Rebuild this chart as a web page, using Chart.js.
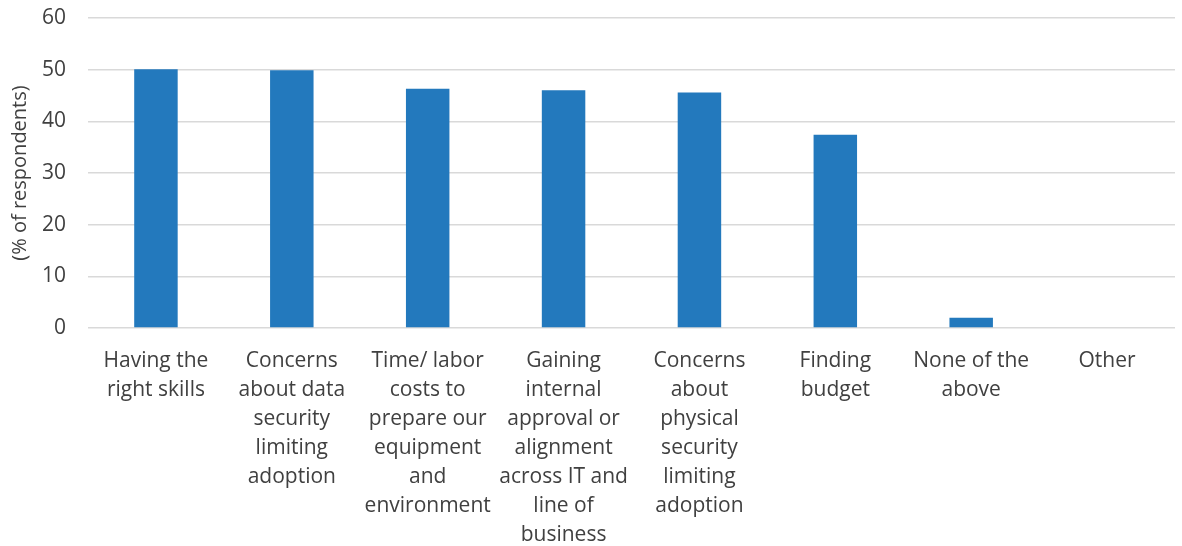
<!DOCTYPE html>
<html>
<head>
<meta charset="utf-8">
<script src="https://cdn.jsdelivr.net/npm/chart.js@4"></script>
<style>
  html, body { margin: 0; padding: 0; background: #ffffff; }
  #wrap { width: 1182px; height: 546px; }
</style>
</head>
<body>
<div id="wrap"><canvas id="barriersChart"></canvas></div>
<script>
// categories, one line per wrapped row as in the picture
const categories = [
  ['Having the', 'right skills'],
  ['Concerns', 'about data', 'security', 'limiting', 'adoption'],
  ['Time/ labor', 'costs to', 'prepare our', 'equipment', 'and', 'environment'],
  ['Gaining', 'internal', 'approval or', 'alignment', 'across IT and', 'line of', 'business'],
  ['Concerns', 'about', 'physical', 'security', 'limiting', 'adoption'],
  ['Finding', 'budget'],
  ['None of the', 'above'],
  ['Other']
];

const respondents = [50.1, 49.9, 46.3, 46.0, 45.6, 37.4, 2.0, 0];

const yTicks = [0, 10, 20, 30, 40, 50, 60];

const textColor = '#404040';

const ctx = document.getElementById('barriersChart');

new Chart(ctx, {
  type: 'bar',
  data: {
    labels: categories,
    datasets: [{
      label: '% of respondents',
      data: respondents,
      backgroundColor: '#2379bd',
      borderWidth: 0,
      categoryPercentage: 1,
      barPercentage: 0.32
    }]
  },
  options: {
    responsive: true,
    maintainAspectRatio: false,
    animation: false,
    layout: {
      padding: { top: 18, right: 7, left: 8, bottom: 0 }
    },
    plugins: {
      legend: { display: false },
      tooltip: { enabled: false }
    },
    scales: {
      x: {
        grid: { display: false },
        border: { display: false },
        afterFit: function (scale) {
          scale.height = 218;
        },
        ticks: {
          color: textColor,
          maxRotation: 0,
          autoSkip: false,
          padding: 11,
          font: { family: 'Open Sans', size: 21, lineHeight: 1.38 }
        }
      },
      y: {
        min: 0,
        max: 60,
        afterBuildTicks: function (axis) {
          axis.ticks = yTicks.map(v => ({ value: v }));
        },
        afterFit: function (scale) {
          scale.width = 80;
        },
        grid: {
          color: '#d9d9d9',
          lineWidth: 1.5,
          drawTicks: true,
          tickLength: 22,
          tickColor: 'rgba(0,0,0,0)'
        },
        border: { display: false },
        ticks: {
          color: textColor,
          padding: 0,
          font: { family: 'Open Sans', size: 21 }
        },
        title: {
          display: true,
          text: '(% of respondents)',
          color: textColor,
          padding: { top: 0, bottom: 4 },
          font: { family: 'Open Sans', size: 20 }
        }
      }
    }
  }
});
</script>
</body>
</html>
